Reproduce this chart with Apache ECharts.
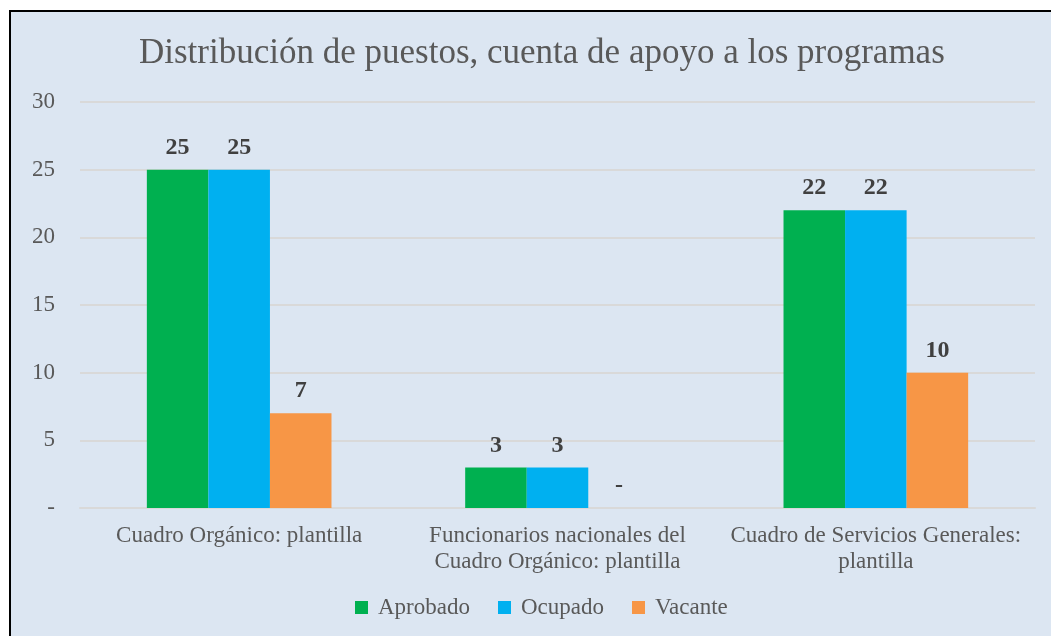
<!DOCTYPE html>
<html>
<head>
<meta charset="utf-8">
<script src="https://cdn.jsdelivr.net/npm/echarts@6/dist/echarts.min.js"></script>
<style>
  html, body { margin: 0; padding: 0; background: #ffffff; }
  #main { width: 1051px; height: 636px; }
</style>
</head>
<body>
<div id="main"></div>
<script>
// datos del gráfico
var categorias = ['Cuadro Orgánico: plantilla', 'Funcionarios nacionales del\nCuadro Orgánico: plantilla', 'Cuadro de Servicios Generales:\nplantilla'];
var aprobado = [25, 3, 22];
var ocupado = [25, 3, 22];
var vacante = [7, 0, 10];
var etiquetasY = ['-', '5', '10', '15', '20', '25', '30'];

var fuente = '"Liberation Serif", "Times New Roman", serif';
var chart = echarts.init(document.getElementById('main'));

function etiqueta(p) {
    return p.value === 0 ? '-' : p.value;
}

function serie(nombre, datos, color) {
    return {
        name: nombre,
        type: 'bar',
        data: datos,
        itemStyle: { color: color },
        barGap: '0%',
        barCategoryGap: '42%',
        label: {
            show: true,
            position: 'top',
            distance: 10,
            formatter: etiqueta,
            fontFamily: fuente,
            fontSize: 24,
            fontWeight: 'bold',
            color: '#404040'
        }
    };
}

chart.setOption({
    backgroundColor: '#ffffff',
    graphic: [{
        type: 'rect',
        shape: { x: 10, y: 11, width: 1060, height: 640 },
        style: { fill: '#dce6f2', stroke: '#000000', lineWidth: 2 },
        z: -10
    }],
    title: {
        text: 'Distribución de puestos, cuenta de apoyo a los programas',
        left: 134,
        top: 31,
        textStyle: { fontFamily: fuente, fontSize: 35, fontWeight: 'normal', color: '#595959' }
    },
    legend: {
        bottom: 12,
        left: 350,
        itemWidth: 13,
        itemHeight: 13,
        itemGap: 28,
        icon: 'rect',
        textStyle: { fontFamily: fuente, fontSize: 23, color: '#595959', padding: [0, 0, 0, 5] },
        data: ['Aprobado', 'Ocupado', 'Vacante']
    },
    grid: { left: 80, right: 16, top: 102, bottom: 128, containLabel: false },
    xAxis: {
        type: 'category',
        data: categorias,
        axisTick: { show: false },
        axisLine: { lineStyle: { color: '#d9d9d9', width: 2 } },
        axisLabel: { fontFamily: fuente, fontSize: 23, color: '#595959', margin: 15, lineHeight: 26, interval: 0 }
    },
    yAxis: {
        type: 'value',
        min: 0,
        max: 30,
        interval: 5,
        axisLine: { show: false },
        axisTick: { show: false },
        splitLine: { lineStyle: { color: '#d9d9d9', width: 2 } },
        axisLabel: {
            fontFamily: fuente, fontSize: 23, color: '#595959', margin: 25,
            formatter: function (v) { return etiquetasY[v / 5]; }
        }
    },
    series: [
        serie('Aprobado', aprobado, '#00b050'),
        serie('Ocupado', ocupado, '#00b0f0'),
        serie('Vacante', vacante, '#f79646')
    ]
});
</script>
</body>
</html>
